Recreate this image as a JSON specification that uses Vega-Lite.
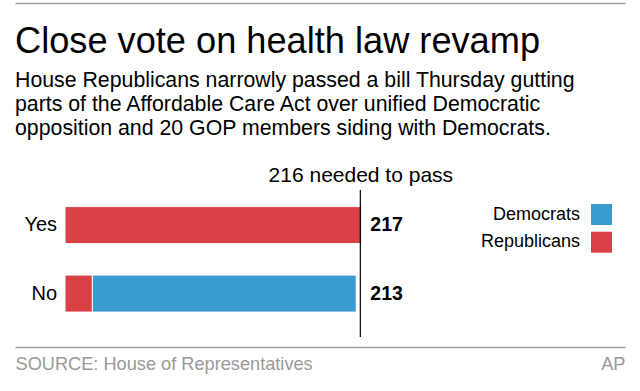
{
  "$schema": "https://vega.github.io/schema/vega-lite/v6.json",
  "autosize": {"type": "none"},
  "padding": {"left": 15, "top": 190, "right": 15, "bottom": 54},
  "width": 610,
  "height": 147,
  "background": "white",
  "config": {"view": {"stroke": null}, "font": "Liberation Sans"},
  "datasets": {
    "votes": [
      {"vote": "Yes", "party": "Republicans", "count": 217},
      {"vote": "No", "party": "Republicans", "count": 20},
      {"vote": "No", "party": "Democrats", "count": 193}
    ],
    "totals": [
      {"vote": "Yes", "total": 217},
      {"vote": "No", "total": 213}
    ],
    "threshold": [{"threshold": 216}]
  },
  "title": {
    "text": "Close vote on health law revamp",
    "subtitle": [
      "House Republicans narrowly passed a bill Thursday gutting",
      "parts of the Affordable Care Act over unified Democratic",
      "opposition and 20 GOP members siding with Democrats."
    ],
    "anchor": "start",
    "frame": "group",
    "font": "Liberation Sans",
    "fontSize": 36.2,
    "fontWeight": "normal",
    "color": "black",
    "subtitleFont": "Liberation Sans",
    "subtitleFontSize": 21.3,
    "subtitleColor": "black",
    "subtitleLineHeight": 24,
    "subtitlePadding": 9.5,
    "offset": -136
  },
  "resolve": {"axis": {"x": "independent"}},
  "layer": [
    {
      "data": {"name": "votes"},
      "mark": {"type": "bar", "stroke": "white", "strokeWidth": 1},
      "encoding": {
        "y": {
          "field": "vote",
          "type": "nominal",
          "sort": ["Yes", "No"],
          "scale": {"domain": ["Yes", "No"], "paddingInner": 0.46, "paddingOuter": 0.303, "align": 0.4},
          "axis": null
        },
        "x": {
          "field": "count",
          "type": "quantitative",
          "stack": "zero",
          "scale": {"domain": [-36.6, 409.6], "nice": false, "zero": false},
          "axis": {
            "orient": "bottom",
            "title": null,
            "offset": 10,
            "grid": false,
            "ticks": false,
            "domainColor": "#9e9e9e",
            "domainWidth": 1.5,
            "values": [-36.6, 409.6],
            "labelExpr": "datum.value < 0 ? 'SOURCE: House of Representatives' : 'AP'",
            "labelFlush": true,
            "labelFontSize": 18.2,
            "labelColor": "#999999",
            "labelPadding": 8.5,
            "labelOverlap": false,
            "labelLimit": 0
          }
        },
        "color": {
          "field": "party",
          "type": "nominal",
          "scale": {"domain": ["Democrats", "Republicans"], "range": ["#3a9bd0", "#d84046"]},
          "legend": {
            "orient": "none",
            "legendX": 576,
            "legendY": 14,
            "title": null,
            "symbolType": "square",
            "symbolSize": 441,
            "symbolStrokeWidth": 0,
            "symbolOpacity": 1,
            "labelFontSize": 18,
            "labelColor": "black",
            "labelAlign": "right",
            "labelOffset": -32,
            "rowPadding": 6.7,
            "padding": 0,
            "labelLimit": 0
          }
        },
        "order": {"field": "party", "sort": "descending"}
      }
    },
    {
      "data": {"name": "threshold"},
      "mark": {"type": "rule", "color": "black", "strokeWidth": 1.2},
      "encoding": {
        "x": {
          "field": "threshold",
          "type": "quantitative",
          "scale": {"domain": [-36.6, 409.6], "nice": false, "zero": false},
          "axis": {
            "orient": "top",
            "title": null,
            "domain": false,
            "ticks": false,
            "grid": false,
            "values": [216],
            "labelExpr": "datum.value + ' needed to pass'",
            "labelFontSize": 21,
            "labelColor": "black",
            "labelBaseline": "alphabetic",
            "labelPadding": 9,
            "labelFlush": false,
            "labelOverlap": false,
            "labelBound": false,
            "labelLimit": 0
          }
        }
      }
    },
    {
      "data": {"name": "totals"},
      "mark": {"type": "text", "align": "left", "baseline": "middle", "dx": 10, "fontSize": 19.5, "fontWeight": "bold", "color": "black"},
      "encoding": {
        "x": {
          "datum": 216,
          "type": "quantitative",
          "scale": {"domain": [-36.6, 409.6], "nice": false, "zero": false},
          "axis": {
            "orient": "top",
            "offset": 187,
            "title": null,
            "labels": false,
            "ticks": false,
            "grid": false,
            "domain": true,
            "domainColor": "#9e9e9e",
            "domainWidth": 1.5
          }
        },
        "y": {"field": "vote", "type": "nominal", "axis": null},
        "text": {"field": "total", "type": "quantitative"}
      }
    },
    {
      "data": {"name": "totals"},
      "mark": {"type": "text", "align": "right", "baseline": "middle", "dx": -8, "fontSize": 20, "color": "black"},
      "encoding": {
        "x": {
          "datum": 0,
          "type": "quantitative",
          "scale": {"domain": [-36.6, 409.6], "nice": false, "zero": false},
          "axis": null
        },
        "y": {"field": "vote", "type": "nominal", "axis": null},
        "text": {"field": "vote", "type": "nominal"}
      }
    }
  ]
}
